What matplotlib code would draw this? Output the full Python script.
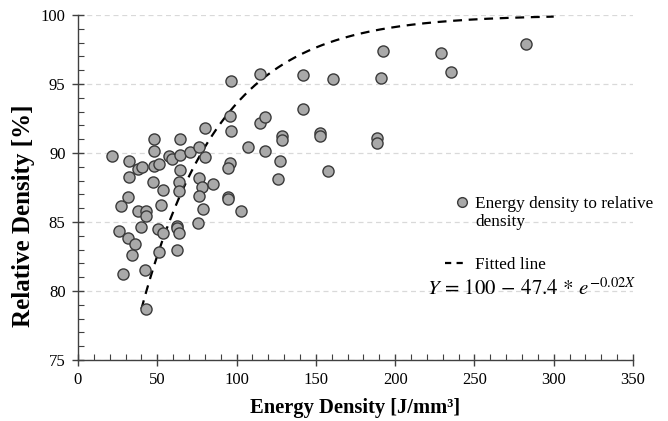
import numpy as np
import matplotlib
matplotlib.use("Agg")
import matplotlib.pyplot as plt
from matplotlib.lines import Line2D
from matplotlib.ticker import MultipleLocator

energy = [21.5, 32.3, 32.3, 38.0, 40.5, 48.1, 48.1, 48.1, 51.3, 57.6, 59.5, 64.6, 64.6, 64.6,
          70.9, 76.6, 80.4, 80.4, 47.5, 53.8, 63.9, 63.9, 76.6, 78.5, 85.4, 95.6, 94.3, 95.6,
          96.2, 96.2, 107.0, 114.6, 114.6, 117.7, 117.7, 31.6, 76.6, 94.3, 94.3, 102.5, 27.2,
          38.0, 43.0, 43.0, 52.5, 79.1, 75.9, 25.9, 39.9, 50.6, 53.8, 62.7, 62.7, 63.9, 31.6,
          36.1, 34.2, 51.3, 62.7, 42.4, 28.5, 43.0, 141.8, 160.8, 192.4, 191.1, 229.1, 235.4,
          282.3, 141.8, 128.5, 128.5, 152.5, 152.5, 188.6, 188.6, 127.2, 125.9, 157.6]
rel_density = [89.75, 89.39, 88.23, 88.81, 88.95, 91.05, 90.11, 89.03, 89.17, 89.75, 89.53, 91.05,
               89.89, 88.74, 90.04, 90.47, 91.84, 89.68, 87.87, 87.29, 87.87, 87.22, 88.16, 87.51,
               87.73, 89.24, 88.88, 92.71, 91.62, 95.23, 90.40, 95.74, 92.20, 92.64, 90.18, 86.79,
               86.86, 86.79, 86.64, 85.78, 86.14, 85.78, 85.78, 85.42, 86.21, 85.92, 84.91, 84.33,
               84.62, 84.48, 84.19, 84.69, 84.55, 84.19, 83.83, 83.39, 82.60, 82.82, 82.96, 81.52,
               81.23, 78.70, 95.67, 95.38, 97.40, 95.45, 97.26, 95.88, 97.91, 93.21, 91.26, 90.97,
               91.48, 91.26, 91.12, 90.69, 89.39, 88.09, 88.66]

fit_a = 100.0
fit_b = 47.4
fit_k = 0.02
fit_x = np.linspace(40, 300, 300)
fit_y = fit_a - fit_b * np.exp(-fit_k * fit_x)

scatter_label_1 = "Energy density to relative"
scatter_label_2 = "density"
fit_label = "Fitted line"
equation = r"$Y\,=\,100\,-\,47.4\,*\,e^{-0.02X}$"
xlabel = "Energy Density [J/mm³]"
ylabel = "Relative Density [%]"

plt.rcParams['font.family'] = ['Liberation Serif', 'DejaVu Serif']
plt.rcParams['mathtext.fontset'] = 'stix'

W, H = 668, 421
fig = plt.figure(figsize=(W/100, H/100), dpi=100)
ax = fig.add_axes([78/W, 1-360/H, 555/W, 345/H])

ax.plot(fit_x, fit_y, linestyle=(0, (4, 3)), color='black', lw=1.6, zorder=2)
ax.scatter(energy, rel_density, s=64, facecolor='#A9A9A9', edgecolor='#3a3a3a', lw=1.0, zorder=3)

ax.set_xlim(0, 350)
ax.set_ylim(75, 100)
ax.xaxis.set_major_locator(MultipleLocator(50))
ax.xaxis.set_minor_locator(MultipleLocator(10))
ax.yaxis.set_major_locator(MultipleLocator(5))
ax.yaxis.set_minor_locator(MultipleLocator(1))
ax.grid(axis='y', which='major', linestyle=(0, (4, 3)), color='#d9d9d9', lw=0.9)
ax.set_axisbelow(True)
for s in ['top', 'right']:
    ax.spines[s].set_visible(False)
for s in ['left', 'bottom']:
    ax.spines[s].set_color('#404040')
    ax.spines[s].set_linewidth(1.0)
ax.tick_params(which='major', direction='inout', length=8, width=1.0, color='#404040',
               labelsize=12, pad=5)
ax.tick_params(which='minor', direction='in', length=4, width=0.8, color='#404040')

ax.set_xlabel(xlabel, fontsize=14.8, fontweight='bold', labelpad=7)
ax.set_ylabel(ylabel, fontsize=18, fontweight='bold')
ax.yaxis.set_label_coords((35-78)/555, (360-216)/345)

fs = 12.4
fspx = fs * 100 / 72
h1 = Line2D([], [], marker='o', linestyle='none', markersize=7, markerfacecolor='#A9A9A9',
            markeredgecolor='#3a3a3a', markeredgewidth=1.0)
h2 = Line2D([], [], linestyle=(0, (2.8, 2.4)), color='black', lw=1.6)
leg1 = ax.legend([h1], [scatter_label_1], loc='center left',
                 bbox_to_anchor=(453/W, 1-204/H), bbox_transform=fig.transFigure,
                 frameon=False, fontsize=fs, handlelength=1.0,
                 handletextpad=(475-453-fspx)/fspx, borderaxespad=0, borderpad=0)
ax.add_artist(leg1)
ax.legend([h2], [fit_label], loc='center left',
          bbox_to_anchor=(445/W, 1-265/H), bbox_transform=fig.transFigure,
          frameon=False, fontsize=fs, handlelength=20/fspx,
          handletextpad=10/fspx, borderaxespad=0, borderpad=0)
fig.text(475/W, 1-222/H, scatter_label_2, fontsize=fs, ha='left', va='center')
fig.text(532/W, 1-289/H, equation, fontsize=15, ha='center', va='center')

fig.savefig('out.png', dpi=100)
